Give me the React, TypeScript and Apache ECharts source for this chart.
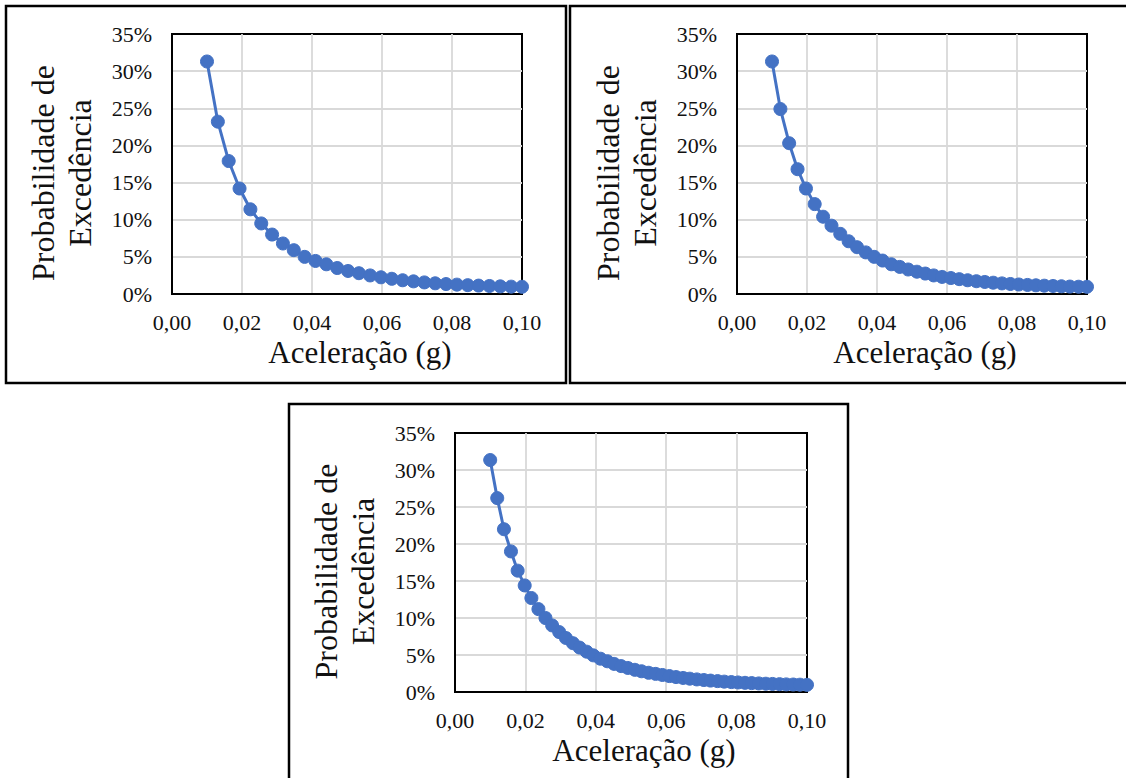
import { useEffect, useRef } from "react";
import * as echarts from "echarts";

// ---- Data (acceleration in g, exceedance probability in %) ----
const xTickLabels = ["0,00", "0,02", "0,04", "0,06", "0,08", "0,10"];
const yTickLabels = ["0%", "5%", "10%", "15%", "20%", "25%", "30%", "35%"];

const accel1 = [
  0.0100, 0.0131, 0.0162, 0.0193, 0.0224, 0.0255, 0.0286, 0.0317, 0.0348, 0.0379,
  0.0410, 0.0441, 0.0472, 0.0503, 0.0534, 0.0566, 0.0597, 0.0628, 0.0659, 0.0690,
  0.0721, 0.0752, 0.0783, 0.0814, 0.0845, 0.0876, 0.0907, 0.0938, 0.0969, 0.1000,
];
const prob1 = [
  31.3, 23.2, 17.9, 14.2, 11.4, 9.5, 8.0, 6.8, 5.9, 5.0,
  4.45, 4.0, 3.5, 3.1, 2.8, 2.5, 2.25, 2.05, 1.85, 1.7,
  1.56, 1.44, 1.34, 1.26, 1.19, 1.13, 1.08, 1.03, 0.99, 0.97,
];

const accel2 = [
  0.0100, 0.0124, 0.0149, 0.0173, 0.0197, 0.0222, 0.0246, 0.0270, 0.0295, 0.0319,
  0.0343, 0.0368, 0.0392, 0.0416, 0.0441, 0.0465, 0.0489, 0.0514, 0.0538, 0.0562,
  0.0586, 0.0611, 0.0635, 0.0659, 0.0684, 0.0708, 0.0732, 0.0757, 0.0781, 0.0805,
  0.0830, 0.0854, 0.0878, 0.0903, 0.0927, 0.0951, 0.0976, 0.1000,
];
const prob2 = [
  31.3, 24.9, 20.3, 16.8, 14.2, 12.1, 10.4, 9.2, 8.1, 7.1,
  6.3, 5.6, 5.0, 4.5, 4.0, 3.65, 3.3, 3.0, 2.75, 2.5,
  2.3, 2.15, 2.0, 1.85, 1.72, 1.62, 1.52, 1.43, 1.35, 1.28,
  1.22, 1.17, 1.12, 1.08, 1.04, 1.0, 0.98, 0.97,
];

const accel3 = [
  0.0100, 0.0120, 0.0139, 0.0159, 0.0178, 0.0198, 0.0217, 0.0237, 0.0257, 0.0276,
  0.0296, 0.0315, 0.0335, 0.0354, 0.0374, 0.0393, 0.0413, 0.0433, 0.0452, 0.0472,
  0.0491, 0.0511, 0.0530, 0.0550, 0.0570, 0.0589, 0.0609, 0.0628, 0.0648, 0.0667,
  0.0687, 0.0707, 0.0726, 0.0746, 0.0765, 0.0785, 0.0804, 0.0824, 0.0843, 0.0863,
  0.0883, 0.0902, 0.0922, 0.0941, 0.0961, 0.0980, 0.1000,
];
const prob3 = [
  31.35, 26.2, 22.0, 19.0, 16.4, 14.4, 12.7, 11.2, 10.0, 9.0,
  8.1, 7.3, 6.6, 6.0, 5.45, 4.95, 4.5, 4.15, 3.8, 3.5,
  3.25, 3.0, 2.8, 2.6, 2.45, 2.3, 2.15, 2.02, 1.9, 1.8,
  1.7, 1.62, 1.54, 1.47, 1.4, 1.34, 1.29, 1.24, 1.2, 1.16,
  1.12, 1.09, 1.06, 1.03, 1.01, 0.99, 0.97,
];

const xTitle = "Aceleração (g)";
const yTitle = "Probabilidade de\nExcedência";

// ---- Layout ----
const FONT = "'Times New Roman', 'Liberation Serif', serif";
const BLUE = "#4472C4";

const panels = [
  { plot: { left: 172, top: 34, width: 350, height: 260 }, box: { x: 6, y: 6, width: 560, height: 377 }, x: accel1, y: prob1 },
  { plot: { left: 737, top: 34, width: 350, height: 260 }, box: { x: 570, y: 6, width: 600, height: 377 }, x: accel2, y: prob2 },
  { plot: { left: 455, top: 433, width: 352, height: 259 }, box: { x: 289, y: 404, width: 559, height: 400 }, x: accel3, y: prob3 },
];

export default function App() {
  const ref = useRef<HTMLDivElement>(null);

  useEffect(() => {
    if (!ref.current) return;
    const chart = echarts.init(ref.current, undefined, { renderer: "svg" });

    const grids: any[] = [];
    const xAxes: any[] = [];
    const yAxes: any[] = [];
    const series: any[] = [];
    const graphics: any[] = [];

    panels.forEach((p, i) => {
      grids.push({
        left: p.plot.left,
        top: p.plot.top,
        width: p.plot.width,
        height: p.plot.height,
        show: true,
        borderColor: "#000",
        borderWidth: 2,
        backgroundColor: "transparent",
        containLabel: false,
      });
      xAxes.push({
        type: "value",
        gridIndex: i,
        min: 0,
        max: 0.1,
        interval: 0.02,
        axisLine: { show: true, lineStyle: { color: "#000", width: 2 } },
        axisTick: { show: false },
        splitLine: { show: true, showMinLine: false, showMaxLine: false, lineStyle: { color: "#d9d9d9", width: 1.8 } },
        axisLabel: {
          margin: 17,
          fontFamily: FONT,
          fontSize: 22,
          color: "#111",
          formatter: (v: number) => xTickLabels[Math.round(v / 0.02)] ?? "",
        },
      });
      yAxes.push({
        type: "value",
        gridIndex: i,
        min: 0,
        max: 35,
        interval: 5,
        axisLine: { show: true, lineStyle: { color: "#000", width: 2 } },
        axisTick: { show: false },
        splitLine: { show: true, showMinLine: false, showMaxLine: false, lineStyle: { color: "#d9d9d9", width: 1.8 } },
        axisLabel: {
          margin: 20,
          fontFamily: FONT,
          fontSize: 22,
          color: "#111",
          formatter: (v: number) => yTickLabels[Math.round(v / 5)] ?? "",
        },
      });
      series.push({
        type: "line",
        xAxisIndex: i,
        yAxisIndex: i,
        data: p.x.map((xv, k) => [xv, p.y[k]]),
        symbol: "circle",
        symbolSize: 13,
        clip: false,
        lineStyle: { color: BLUE, width: 3 },
        itemStyle: { color: BLUE, borderColor: BLUE },
        z: 5,
      });
      graphics.push({
        type: "rect",
        shape: { x: p.box.x, y: p.box.y, width: p.box.width, height: p.box.height },
        style: { fill: "none", stroke: "#000", lineWidth: 2.5 },
        silent: true,
      });
      graphics.push({
        type: "text",
        x: p.plot.left - 111,
        y: p.plot.top + p.plot.height / 2 + 9,
        rotation: Math.PI / 2,
        style: {
          text: yTitle,
          fontFamily: FONT,
          fontSize: 32,
          lineHeight: 37,
          align: "center",
          verticalAlign: "middle",
          fill: "#111",
        },
      });
      graphics.push({
        type: "text",
        x: p.plot.left + p.plot.width / 2 + 13,
        y: p.plot.top + p.plot.height + 58,
        style: {
          text: xTitle,
          fontFamily: FONT,
          fontSize: 31,
          align: "center",
          verticalAlign: "middle",
          fill: "#111",
        },
      });
    });

    chart.setOption({
      animation: false,
      backgroundColor: "#fff",
      grid: grids,
      xAxis: xAxes,
      yAxis: yAxes,
      series,
      graphic: { elements: graphics },
    });

    return () => chart.dispose();
  }, []);

  return (
    <div
      ref={ref}
      style={{ position: "fixed", left: 0, top: 0, width: 1126, height: 778, background: "#fff" }}
    />
  );
}
